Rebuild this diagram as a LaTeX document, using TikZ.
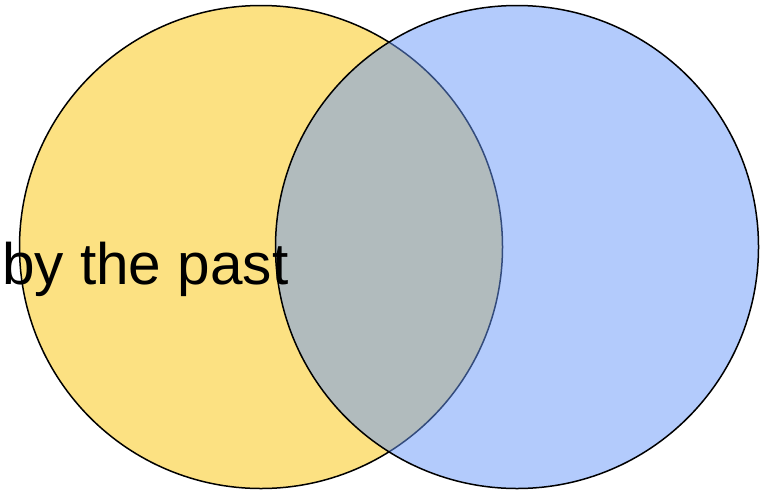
\documentclass[tikz,border=0pt]{standalone}
\usepackage{fontspec}
\setmainfont{Liberation Sans}
\usetikzlibrary{positioning}

\definecolor{pastyellow}{RGB}{252,225,130}
\definecolor{nowblue}{RGB}{103,151,249}

\begin{document}
\begin{tikzpicture}[
    x=1pt, y=-1pt,
    setcircle/.style = {
        circle,
        draw=black,
        line width=1.5pt,
        minimum size=483pt,
        inner sep=0pt
    },
    settext/.style = {
        anchor=base west,
        inner sep=0pt,
        font=\fontsize{58.5}{60}\selectfont
    }
]

\useasboundingbox (0,0) rectangle (762,490);

\node (pastset) [setcircle, fill=pastyellow] at (261,247) {};

\node (nowset) [setcircle, fill=nowblue, fill opacity=0.5, draw opacity=1] at (517,247) {};

\node (pastlabel) [settext] at (2,284) {by the past};

\end{tikzpicture}
\end{document}
